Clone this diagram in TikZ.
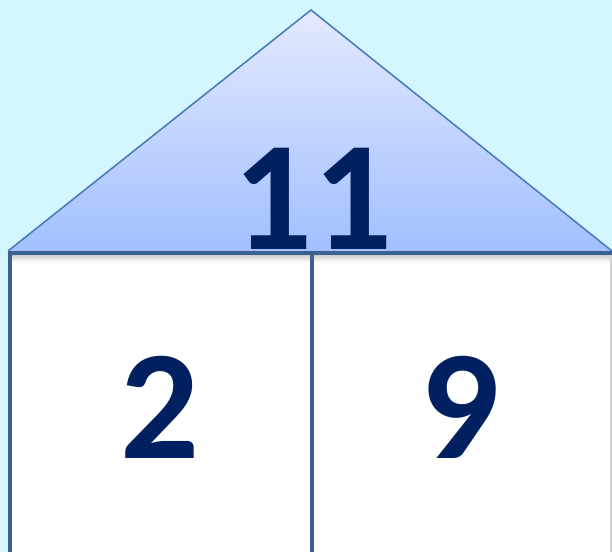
\documentclass[tikz,border=0pt]{standalone}
\usepackage{fontspec}
\setmainfont{Carlito}
\begin{document}
\begin{tikzpicture}[x=0.75pt, y=-0.75pt]
    \definecolor{skyColour}{HTML}{D4F6FF}
    \definecolor{roofTop}{HTML}{E4EAFF}
    \definecolor{roofBottom}{HTML}{A2C0FF}
    \definecolor{roofEdge}{HTML}{4A7EBB}
    \definecolor{wallColour}{HTML}{3C6090}
    \definecolor{numberColour}{HTML}{002060}

    \tikzset{number/.style={font=\fontsize{117}{117}\selectfont\bfseries, text=numberColour, anchor=base, inner sep=0pt}}

    \fill[skyColour] (0,0) rectangle (612,552);
    \useasboundingbox (0,0) rectangle (612,552);

    \coordinate (apex) at (311,10);
    \coordinate (eaveL) at (8,251);
    \coordinate (eaveR) at (612,251);

    % roof
    \shade[top color=roofTop, bottom color=roofBottom] (apex) -- (eaveL) -- (eaveR) -- cycle;
    \draw[roofEdge, line width=1.2pt] (eaveL) -- (apex) -- (eaveR);

    % house
    \fill[white] (10,253) rectangle (612,552);
    \shade[top color=black!22, bottom color=white] (11,254) rectangle (611,262);
    \draw[gray!35, line width=1pt] (611,253) -- (611,552);
    \draw[wallColour, line width=3pt] (9.5,552) -- (9.5,253) -- (612,253);
    \draw[wallColour, line width=3pt] (311.5,253) -- (311.5,552);

    \node[number] (sum) at (313,250) {11};
    \node[number] (partA) at (160,459) {2};
    \node[number] (partB) at (460,459) {9};

\end{tikzpicture}
\end{document}
